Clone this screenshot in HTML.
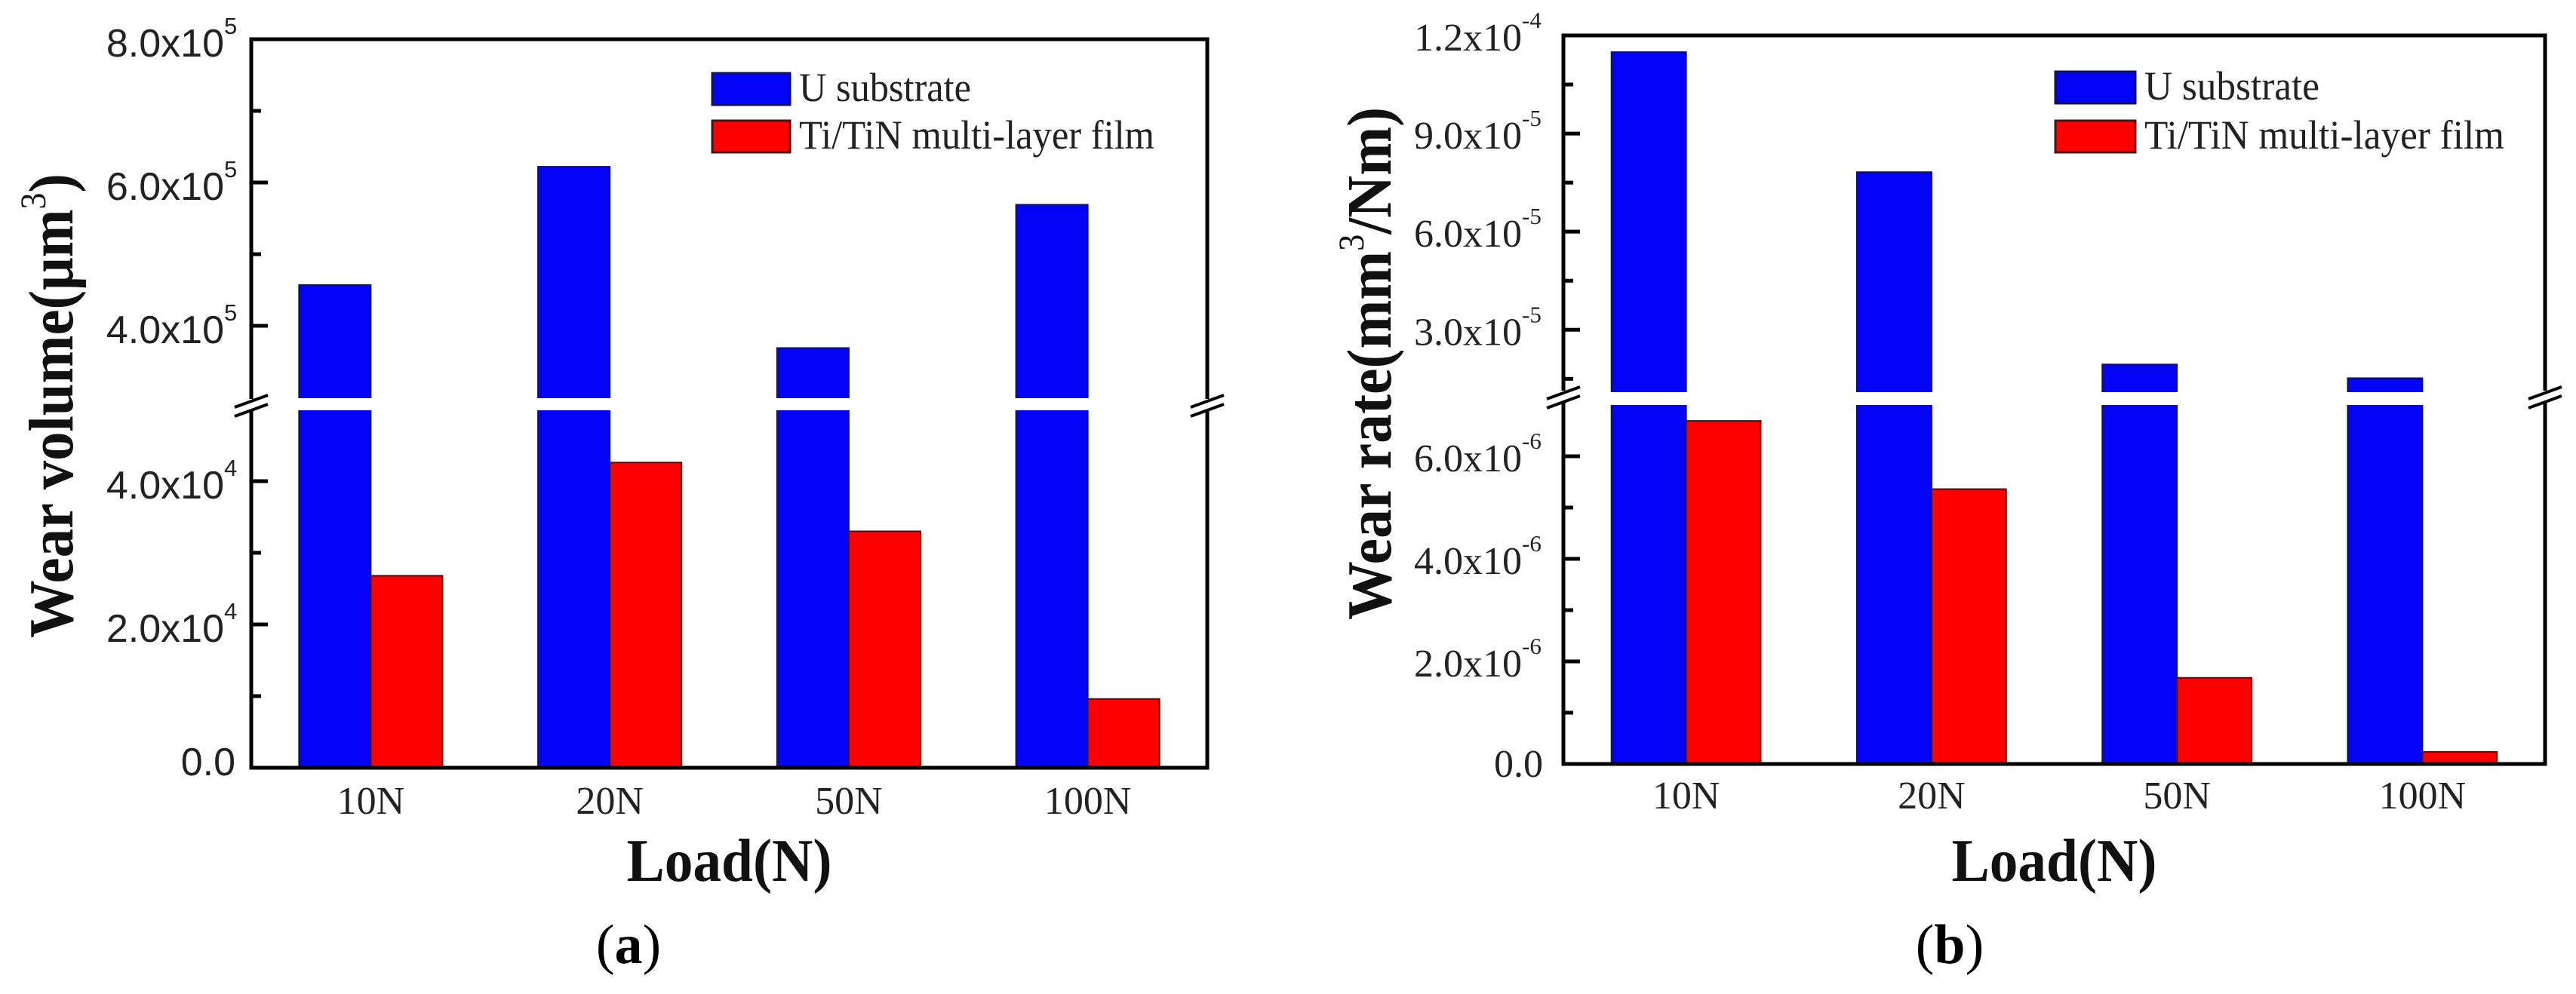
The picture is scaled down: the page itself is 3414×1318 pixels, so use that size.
<!DOCTYPE html>
<html><head><meta charset="utf-8"><style>
html,body{margin:0;padding:0;background:#fff;}
svg{display:block;}
</style></head><body>
<svg id="fig" width="3414" height="1318" viewBox="0 0 3414 1318" xmlns="http://www.w3.org/2000/svg">
<rect width="3414" height="1318" fill="#fff"/>
</svg>
<script>
// ---------- data ----------
const categories = ['10N','20N','50N','100N'];
// panel (a) wear volume (um^3)
const volumeU = [4.57e5, 6.22e5, 3.69e5, 5.69e5];
const volumeTi = [2.68e4, 4.26e4, 3.30e4, 0.96e4];
const ticksAUpper = [4e5, 6e5, 8e5];
const labelsAUpper = ['4.0x10', '6.0x10', '8.0x10'];
const expAUpper = ['5', '5', '5'];
const ticksALower = [0, 2e4, 4e4];
const labelsALower = ['0.0', '2.0x10', '4.0x10'];
const expALower = ['', '4', '4'];
const minorAUpper = [5e5, 7e5];
const minorALower = [1e4, 3e4];
// panel (b) wear rate (mm^3/Nm)
const rateU = [1.149e-4, 7.82e-5, 1.94e-5, 1.52e-5];
const rateTi = [6.69e-6, 5.36e-6, 1.68e-6, 0.235e-6];
const ticksBUpper = [3e-5, 6e-5, 9e-5, 1.2e-4];
const labelsBUpper = ['3.0x10', '6.0x10', '9.0x10', '1.2x10'];
const expBUpper = ['-5', '-5', '-5', '-4'];
const ticksBLower = [0, 2e-6, 4e-6, 6e-6];
const labelsBLower = ['0.0', '2.0x10', '4.0x10', '6.0x10'];
const expBLower = ['', '-6', '-6', '-6'];
const minorBUpper = [1.5e-5, 4.5e-5, 7.5e-5, 1.05e-4];
const minorBLower = [1e-6, 3e-6, 5e-6];
const seriesNames = ['U substrate', 'Ti/TiN multi-layer film'];

const NS = 'http://www.w3.org/2000/svg';
const svg = document.getElementById('fig');
function mk(tag, attrs, parent) {
  const e = document.createElementNS(NS, tag);
  for (const k in attrs) e.setAttribute(k, attrs[k]);
  (parent || svg).appendChild(e);
  return e;
}

function panel(cfg) {
  const g = mk('g', {});
  
  
  const yU = v => cfg.uy0 + (v - cfg.ud0) / (cfg.ud1 - cfg.ud0) * (cfg.uy1 - cfg.uy0);
  const yL = v => cfg.ly0 + (v - cfg.ld0) / (cfg.ld1 - cfg.ld0) * (cfg.ly1 - cfg.ly0);
  const band = (cfg.right - cfg.left) / categories.length;
  const cx = i => cfg.left + band * (i + 0.5);
  const bw = band * cfg.bwFrac;

  // bars
  for (let i = 0; i < categories.length; i++) {
    const v = cfg.u[i];
    let topY = v > cfg.ld1 ? yU(v) : yL(v);
    const b = mk('rect', {x: cx(i) - bw, y: topY, width: bw, height: cfg.bottom - topY, fill: '#0303f5', stroke: '#101060', 'stroke-width': 2}, g);
    
    
    const t = cfg.t[i];
    const ty = yL(t);
    const r = mk('rect', {x: cx(i), y: ty, width: bw, height: cfg.bottom - ty, fill: '#fe0000', stroke: '#501010', 'stroke-width': 2}, g);
    
    
  }
  // break gap
  const gap = mk('rect', {x: cfg.left + 4, y: cfg.gapTop, width: cfg.right - cfg.left - 8, height: cfg.gapBot - cfg.gapTop, fill: '#fff'}, g);
  
  

  // frame
  const f = mk('path', {d: `M${cfg.left},${cfg.top} H${cfg.right} V${cfg.bottom} H${cfg.left} Z`, fill: 'none', stroke: '#000', 'stroke-width': 5}, g);
  
  

  // break marks
  [cfg.left, cfg.right].forEach((x, k) => {
    const yc = cfg.breakY;
    const bm = mk('g', {}, g);
    
    
    mk('rect', {x: x - 4, y: yc - 8, width: 8, height: 16, fill: '#fff'}, bm);
    mk('line', {x1: x - 22, y1: yc + 3, x2: x + 22, y2: yc - 13, stroke: '#000', 'stroke-width': 4}, bm);
    mk('line', {x1: x - 22, y1: yc + 15, x2: x + 22, y2: yc - 1, stroke: '#000', 'stroke-width': 4}, bm);
  });

  // ticks
  function tick(y, len, nm) {
    const l = mk('line', {x1: cfg.left, y1: y, x2: cfg.left + len, y2: y, stroke: '#000', 'stroke-width': 5}, g);
    
    
  }
  function label(y, txt, ex, nm) {
    const t = mk('text', {x: ex ? cfg.labEnd : cfg.labEnd + cfg.zeroShift, y: y + (ex ? cfg.labDy : cfg.zeroDy), 'text-anchor': 'end', 'font-family': cfg.tickFont, 'font-size': 52, fill: '#222'}, g);
    t.textContent = txt;
    
    
    if (ex) {
      const s = mk('text', {x: cfg.labEnd, y: y + cfg.labDy - 30, 'font-family': cfg.tickFont, 'font-size': 31, fill: '#222'}, g);
      s.textContent = ex;
      
      
    }
  }
  cfg.tu.forEach((v, i) => { tick(yU(v), 22, 'y-tick-major'); label(yU(v), cfg.lu[i], cfg.eu[i], 'y-tick-label'); });
  cfg.tl.forEach((v, i) => { tick(yL(v), 22, 'y-tick-major'); label(yL(v), cfg.ll[i], cfg.el[i], 'y-tick-label'); });
  cfg.mu.forEach(v => tick(yU(v), 13, 'y-tick-minor'));
  cfg.ml.forEach(v => tick(yL(v), 13, 'y-tick-minor'));

  // x labels
  categories.forEach((c, i) => {
    const t = mk('text', {x: cx(i), y: cfg.xLabY, 'text-anchor': 'middle', 'font-family': '"Liberation Serif", serif', 'font-size': 52, fill: '#222'}, g);
    t.textContent = c;
    
    
  });

  // legend
  const lg = mk('g', {}, g);
  
  
  const cols = ['#0303f5', '#fe0000'];
  const strokes = ['#101060', '#501010'];
  const lens = cfg.legLens;
  seriesNames.forEach((n, k) => {
    const ent = mk('g', {}, lg);
    
    
    mk('rect', {x: cfg.legX, y: cfg.legY[k], width: cfg.legW, height: 42, fill: cols[k], stroke: strokes[k], 'stroke-width': 3}, ent);
    const t = mk('text', {x: cfg.legX + cfg.legW + 12, y: cfg.legY[k] + 37, 'font-family': '"Liberation Serif", serif', 'font-size': 54, fill: '#222', textLength: lens[k], lengthAdjust: 'spacingAndGlyphs'}, ent);
    t.textContent = n;
  });

  // axis titles
  const xt = mk('text', {x: (cfg.left + cfg.right) / 2, y: 1168, 'text-anchor': 'middle', 'font-family': '"Liberation Serif", serif', 'font-weight': 'bold', 'font-size': 80, fill: '#111', textLength: 272, lengthAdjust: 'spacingAndGlyphs'}, g);
  xt.textContent = 'Load(N)';
  
  

  const yt = mk('text', {x: 0, y: 0, 'text-anchor': 'middle', transform: `translate(${cfg.ytX},${cfg.ytY}) rotate(-90)`, 'font-family': '"Liberation Serif", serif', 'font-weight': 'bold', 'font-size': 84, fill: '#111', textLength: cfg.ytLen, lengthAdjust: 'spacingAndGlyphs'}, g);
  
  
  const p1 = mk('tspan', {}, yt); p1.textContent = cfg.yt[0];
  const p2 = mk('tspan', {dy: -36, 'font-size': 48, 'font-weight': 'normal'}, yt); p2.textContent = '3';
  const p3 = mk('tspan', {dy: 36}, yt); p3.textContent = cfg.yt[1];

  const pl = mk('text', {x: cfg.panX, y: 1277, 'text-anchor': 'middle', 'font-family': '"Liberation Serif", serif', 'font-size': 74, fill: '#000'}, g);
  
  
  const a1 = mk('tspan', {}, pl); a1.textContent = '(';
  const a2 = mk('tspan', {'font-weight': 'bold'}, pl); a2.textContent = cfg.panel;
  const a3 = mk('tspan', {}, pl); a3.textContent = ')';
}

panel({
  name: 'panel-a-wear-volume', left: 333, right: 1600, top: 52, bottom: 1018,
  ud0: 3e5, ud1: 8e5, uy0: 527, uy1: 52, ld0: 0, ld1: 5e4, ly0: 1018, ly1: 543,
  gapTop: 528, gapBot: 544, breakY: 537, bwFrac: 0.3,
  u: volumeU, t: volumeTi,
  tu: ticksAUpper, lu: labelsAUpper, eu: expAUpper, tl: ticksALower, ll: labelsALower, el: expALower,
  mu: minorAUpper, ml: minorALower,
  tickFont: '"Liberation Sans", sans-serif', labEnd: 297, labDy: 23, zeroShift: 15, zeroDy: 10,
  xLabY: 1079, legX: 944, legW: 103, legY: [97, 160], legLens: [228, 471],
  yt: ['Wear volume(\u03bcm', ')'], ytX: 96, ytY: 538, ytLen: 616,
  panX: 833, panel: 'a'
});
panel({
  name: 'panel-b-wear-rate', left: 2072, right: 3373, top: 47, bottom: 1013,
  ud0: 1e-5, ud1: 1.2e-4, uy0: 524, uy1: 47, ld0: 0, ld1: 7e-6, ly0: 1013, ly1: 537,
  gapTop: 520, gapBot: 537, breakY: 526, bwFrac: 0.304,
  u: rateU, t: rateTi,
  tu: ticksBUpper, lu: labelsBUpper, eu: expBUpper, tl: ticksBLower, ll: labelsBLower, el: expBLower,
  mu: minorBUpper, ml: minorBLower,
  tickFont: '"Liberation Serif", serif', labEnd: 2017, labDy: 20, zeroShift: 28, zeroDy: 17,
  xLabY: 1072, legX: 2724, legW: 106, legY: [95, 160], legLens: [232, 477],
  yt: ['Wear rate(mm', '/Nm)'], ytX: 1843, ytY: 482, ytLen: 680,
  panX: 2584, panel: 'b'
});
</script>
</body></html>
